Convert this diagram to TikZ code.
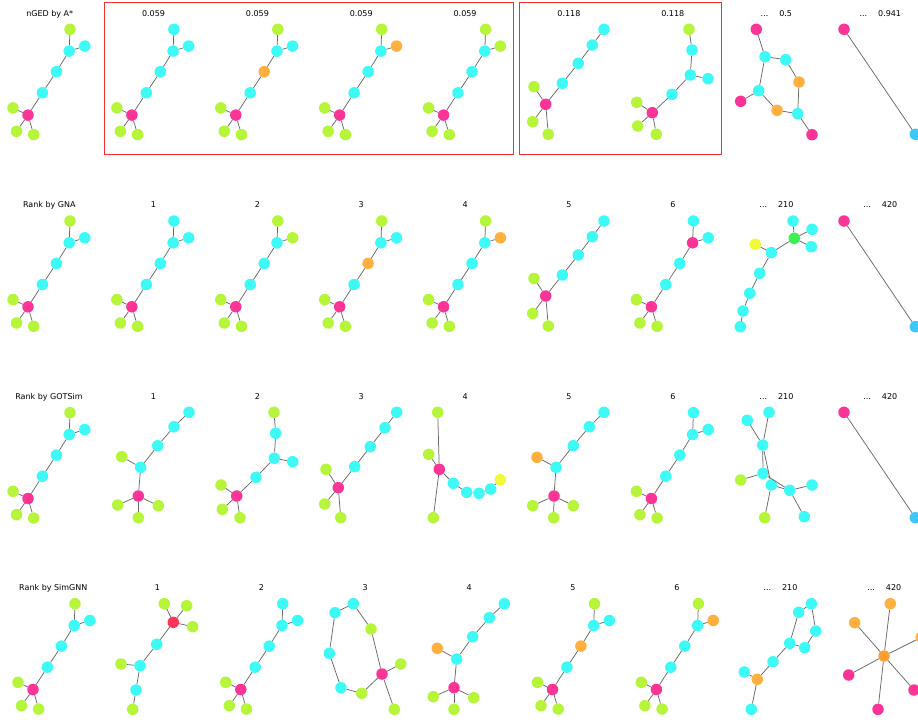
\documentclass[tikz,border=0pt]{standalone}
\usepackage{fontspec}
\setmainfont{DejaVu Sans}
\definecolor{AtomLime}{RGB}{182,245,58}
\definecolor{AtomCyan}{RGB}{62,250,247}
\definecolor{AtomPink}{RGB}{252,52,152}
\definecolor{AtomOrange}{RGB}{255,176,62}
\definecolor{AtomAmber}{RGB}{255,158,52}
\definecolor{AtomGreen}{RGB}{58,240,82}
\definecolor{AtomYellow}{RGB}{240,250,58}
\definecolor{AtomRed}{RGB}{255,52,88}
\definecolor{AtomSky}{RGB}{62,200,250}
\definecolor{BondGray}{RGB}{105,105,105}
\definecolor{FrameRed}{RGB}{250,45,45}
\tikzset{
  atom/.style={circle, fill=#1, draw=none, minimum size=11.5pt, inner sep=0pt},
  bond/.style={draw=BondGray, line width=0.75pt},
  rank label/.style={font=\fontsize{8}{9.6}\selectfont, anchor=base, inner sep=0pt},
  pick box/.style={draw=FrameRed, line width=1pt}
}
% query-shaped molecule: name, x, y of top atom, colours of top, hub, side, middle
\newcommand{\querymol}[7]{%
  \begin{scope}[shift={(#2,#3)}]
    \node[atom=#4] (#1t) at (0,0) {};
    \node[atom=#5] (#1h) at (-0.8,21.8) {};
    \node[atom=#6] (#1r) at (14.8,16.8) {};
    \node[atom=#7] (#1m) at (-13.6,42.4) {};
    \node[atom=AtomCyan] (#1n) at (-27.6,63.5) {};
    \node[atom=AtomPink] (#1p) at (-42,85.8) {};
    \node[atom=AtomLime] (#1l) at (-57,78.6) {};
    \node[atom=AtomLime] (#1bl) at (-53.5,102) {};
    \node[atom=AtomLime] (#1b) at (-36.3,105.3) {};
    \draw[bond] (#1t)--(#1h) (#1h)--(#1r) (#1h)--(#1m) (#1m)--(#1n) (#1n)--(#1p)
      (#1p)--(#1l) (#1p)--(#1bl) (#1p)--(#1b);
  \end{scope}}
\begin{document}
\begin{tikzpicture}[x=1pt, y=-1pt]
\useasboundingbox (0,0) rectangle (918,721);

% titles
\node[rank label] (t11) at (49.7,16.2) {nGED by A*};
\node[rank label] (t12) at (153.5,16.2) {0.059};
\node[rank label] (t13) at (257.4,16.2) {0.059};
\node[rank label] (t14) at (361.2,16.2) {0.059};
\node[rank label] (t15) at (465.1,16.2) {0.059};
\node[rank label] (t16) at (568.9,16.2) {0.118};
\node[rank label] (t17) at (672.8,16.2) {0.118};
\node[rank label] (t18) at (776.4,16.2) {...\hspace{11pt}0.5};
\node[rank label] (t19) at (880.3,16.2) {...\hspace{11pt}0.941};

\node[rank label] (t21) at (49.3,207.9) {Rank by GNA};
\node[rank label] (t22) at (153.5,207.9) {1};
\node[rank label] (t23) at (257.4,207.9) {2};
\node[rank label] (t24) at (361.2,207.9) {3};
\node[rank label] (t25) at (465.1,207.9) {4};
\node[rank label] (t26) at (568.9,207.9) {5};
\node[rank label] (t27) at (672.8,207.9) {6};
\node[rank label] (t28) at (776.4,207.9) {...\hspace{11pt}210};
\node[rank label] (t29) at (880.3,207.9) {...\hspace{11pt}420};

\node[rank label] (t31) at (49,399.2) {Rank by GOTSim};
\node[rank label] (t32) at (153.5,399.2) {1};
\node[rank label] (t33) at (257.4,399.2) {2};
\node[rank label] (t34) at (361.2,399.2) {3};
\node[rank label] (t35) at (465.1,399.2) {4};
\node[rank label] (t36) at (568.9,399.2) {5};
\node[rank label] (t37) at (672.8,399.2) {6};
\node[rank label] (t38) at (776.4,399.2) {...\hspace{11pt}210};
\node[rank label] (t39) at (880.3,399.2) {...\hspace{11pt}420};

\node[rank label] (t41) at (53.3,590.5) {Rank by SimGNN};
\node[rank label] (t42) at (157.5,590.5) {1};
\node[rank label] (t43) at (261.4,590.5) {2};
\node[rank label] (t44) at (365.2,590.5) {3};
\node[rank label] (t45) at (469.1,590.5) {4};
\node[rank label] (t46) at (572.9,590.5) {5};
\node[rank label] (t47) at (676.8,590.5) {6};
\node[rank label] (t48) at (780.4,590.5) {...\hspace{11pt}210};
\node[rank label] (t49) at (884.3,590.5) {...\hspace{11pt}420};

% boxes round the A* picks
\draw[pick box] (104,2.5) rectangle (513.5,154);
\draw[pick box] (519.5,2.5) rectangle (721,154);

% row 1: nGED by A*
\querymol{r1c1}{70}{29.3}{AtomLime}{AtomCyan}{AtomCyan}{AtomCyan}
\querymol{r1c2}{173.9}{29.3}{AtomCyan}{AtomCyan}{AtomCyan}{AtomCyan}
\querymol{r1c3}{277.8}{29.3}{AtomLime}{AtomCyan}{AtomCyan}{AtomOrange}
\querymol{r1c4}{381.7}{29.3}{AtomLime}{AtomCyan}{AtomOrange}{AtomCyan}
\querymol{r1c5}{485.6}{29.3}{AtomLime}{AtomCyan}{AtomLime}{AtomCyan}
\foreach \i/\x/\y/\c in {1/604/29.3/AtomCyan, 2/592.3/45/AtomCyan, 3/578.3/63.3/AtomCyan,
    4/562.3/83.3/AtomCyan, 5/545.7/104.3/AtomPink, 6/534/86.7/AtomLime,
    7/532.7/121.7/AtomLime, 8/548.3/134.3/AtomLime}
  \node[atom=\c] (r1c6-\i) at (\x,\y) {};
\foreach \a/\b in {1/2, 2/3, 3/4, 4/5, 5/6, 5/7, 5/8}
  \draw[bond] (r1c6-\a) -- (r1c6-\b);
\foreach \i/\x/\y/\c in {1/689/29.3/AtomLime, 2/692/50/AtomCyan, 3/690.3/75/AtomCyan,
    4/708/78.7/AtomCyan, 5/672/94.3/AtomCyan, 6/652.3/112.7/AtomPink,
    7/636.7/102.3/AtomLime, 8/637.7/126/AtomLime, 9/656.3/134.3/AtomLime}
  \node[atom=\c] (r1c7-\i) at (\x,\y) {};
\foreach \a/\b in {1/2, 2/3, 3/4, 3/5, 5/6, 6/7, 6/8, 6/9}
  \draw[bond] (r1c7-\a) -- (r1c7-\b);
\foreach \i/\x/\y/\c in {1/756.3/29.3/AtomPink, 2/765/56.7/AtomCyan, 3/785.7/59.7/AtomCyan,
    4/799/82/AtomOrange, 5/758.7/90.7/AtomCyan, 6/740.7/101.3/AtomPink,
    7/777/110.3/AtomOrange, 8/797.7/113.7/AtomCyan, 9/812/134.7/AtomPink}
  \node[atom=\c] (r1c8-\i) at (\x,\y) {};
\foreach \a/\b in {1/2, 2/3, 3/4, 4/8, 2/5, 5/6, 5/7, 7/8, 8/9}
  \draw[bond] (r1c8-\a) -- (r1c8-\b);
\node[atom=AtomPink] (r1c9-1) at (844,29.3) {};
\node[atom=AtomSky] (r1c9-2) at (915.3,134.3) {};
\draw[bond] (r1c9-1) -- (r1c9-2);

% row 2: GNA
\querymol{r2c1}{70}{221}{AtomLime}{AtomCyan}{AtomCyan}{AtomCyan}
\querymol{r2c2}{173.9}{221}{AtomCyan}{AtomCyan}{AtomCyan}{AtomCyan}
\querymol{r2c3}{277.8}{221}{AtomLime}{AtomCyan}{AtomLime}{AtomCyan}
\querymol{r2c4}{381.7}{221}{AtomLime}{AtomCyan}{AtomCyan}{AtomOrange}
\querymol{r2c5}{485.6}{221}{AtomLime}{AtomCyan}{AtomOrange}{AtomCyan}
\foreach \i/\x/\y/\c in {1/604/221/AtomCyan, 2/592.3/236.7/AtomCyan, 3/578.3/255/AtomCyan,
    4/562.3/275/AtomCyan, 5/545.7/296/AtomPink, 6/534/278.4/AtomLime,
    7/532.7/313.4/AtomLime, 8/548.3/326/AtomLime}
  \node[atom=\c] (r2c6-\i) at (\x,\y) {};
\foreach \a/\b in {1/2, 2/3, 3/4, 4/5, 5/6, 5/7, 5/8}
  \draw[bond] (r2c6-\a) -- (r2c6-\b);
\querymol{r2c7}{693.4}{221}{AtomCyan}{AtomPink}{AtomCyan}{AtomCyan}
\foreach \i/\x/\y/\c in {1/793/221/AtomCyan, 2/794.3/238.3/AtomGreen, 3/812/229.3/AtomCyan,
    4/811.3/246.7/AtomCyan, 5/755.3/244.3/AtomYellow, 6/771.3/252.7/AtomCyan,
    7/759.7/273.3/AtomCyan, 8/749.7/293.3/AtomCyan, 9/743/311/AtomCyan,
    10/740.3/326.7/AtomCyan}
  \node[atom=\c] (r2c8-\i) at (\x,\y) {};
\foreach \a/\b in {1/2, 2/3, 2/4, 2/6, 5/6, 6/7, 7/8, 8/9, 9/10}
  \draw[bond] (r2c8-\a) -- (r2c8-\b);
\node[atom=AtomPink] (r2c9-1) at (844,221) {};
\node[atom=AtomSky] (r2c9-2) at (915.3,326.7) {};
\draw[bond] (r2c9-1) -- (r2c9-2);

% row 3: GOTSim
\querymol{r3c1}{70}{412.7}{AtomLime}{AtomCyan}{AtomCyan}{AtomCyan}
\foreach \i/\x/\y/\c in {1/189/412.3/AtomCyan, 2/174/426.7/AtomCyan, 3/157.7/445.7/AtomCyan,
    4/140.7/467.3/AtomCyan, 5/121.7/456.7/AtomLime, 6/138.3/496/AtomPink,
    7/117.7/505/AtomLime, 8/138.3/517.7/AtomLime, 9/158.3/505.7/AtomLime}
  \node[atom=\c] (r3c2-\i) at (\x,\y) {};
\foreach \a/\b in {1/2, 2/3, 3/4, 4/5, 4/6, 6/7, 6/8, 6/9}
  \draw[bond] (r3c2-\a) -- (r3c2-\b);
\foreach \i/\x/\y/\c in {1/274/412.3/AtomLime, 2/275.7/433.3/AtomCyan, 3/274.3/458.3/AtomCyan,
    4/292.7/461.7/AtomCyan, 5/256/477.3/AtomCyan, 6/236.7/496/AtomPink,
    7/221/485/AtomLime, 8/222.3/509.3/AtomLime, 9/240/517.7/AtomLime}
  \node[atom=\c] (r3c3-\i) at (\x,\y) {};
\foreach \a/\b in {1/2, 2/3, 3/4, 3/5, 5/6, 6/7, 6/8, 6/9}
  \draw[bond] (r3c3-\a) -- (r3c3-\b);
\foreach \i/\x/\y/\c in {1/396.7/412.3/AtomCyan, 2/385/427.7/AtomCyan, 3/370.3/446.7/AtomCyan,
    4/354.7/466.7/AtomCyan, 5/338.3/487.7/AtomPink, 6/326/469.3/AtomLime,
    7/324.7/504/AtomLime, 8/340.7/517.7/AtomLime}
  \node[atom=\c] (r3c4-\i) at (\x,\y) {};
\foreach \a/\b in {1/2, 2/3, 3/4, 4/5, 5/6, 5/7, 5/8}
  \draw[bond] (r3c4-\a) -- (r3c4-\b);
\foreach \i/\x/\y/\c in {1/437.7/412.3/AtomLime, 2/428.7/454.3/AtomLime, 3/439.3/469.3/AtomPink,
    4/433.3/517.7/AtomLime, 5/453.3/483.3/AtomCyan, 6/466.7/492.3/AtomCyan,
    7/479/493.3/AtomCyan, 8/490.7/489/AtomCyan, 9/500.3/479.7/AtomYellow}
  \node[atom=\c] (r3c5-\i) at (\x,\y) {};
\foreach \a/\b in {3/1, 3/2, 3/4, 3/5, 5/6, 6/7, 7/8, 8/9}
  \draw[bond] (r3c5-\a) -- (r3c5-\b);
\foreach \i/\x/\y/\c in {1/604/412.3/AtomCyan, 2/589.3/426.7/AtomCyan, 3/573.3/445.7/AtomCyan,
    4/556/467.3/AtomCyan, 5/537/457.3/AtomOrange, 6/554/496/AtomPink,
    7/532.7/505.7/AtomLime, 8/553.7/517.7/AtomLime, 9/573.3/505.7/AtomLime}
  \node[atom=\c] (r3c6-\i) at (\x,\y) {};
\foreach \a/\b in {1/2, 2/3, 3/4, 4/5, 4/6, 6/7, 6/8, 6/9}
  \draw[bond] (r3c6-\a) -- (r3c6-\b);
\querymol{r3c7}{693.4}{412.7}{AtomCyan}{AtomCyan}{AtomCyan}{AtomCyan}
\foreach \i/\x/\y/\c in {1/769/412.3/AtomCyan, 2/747.3/420.3/AtomCyan, 3/762.7/445/AtomCyan,
    4/763/473.3/AtomCyan, 5/740.7/480/AtomLime, 6/771.3/485/AtomCyan,
    7/789.7/490.3/AtomCyan, 8/812/485/AtomCyan, 9/764.7/517.7/AtomLime,
    10/804.3/516.7/AtomCyan}
  \node[atom=\c] (r3c8-\i) at (\x,\y) {};
\foreach \a/\b in {1/3, 2/3, 3/4, 3/6, 4/5, 4/7, 6/7, 6/9, 7/8, 7/10}
  \draw[bond] (r3c8-\a) -- (r3c8-\b);
\node[atom=AtomPink] (r3c9-1) at (844,412.3) {};
\node[atom=AtomSky] (r3c9-2) at (915.3,517.7) {};
\draw[bond] (r3c9-1) -- (r3c9-2);

% row 4: SimGNN
\querymol{r4c1}{75}{603.7}{AtomLime}{AtomCyan}{AtomCyan}{AtomCyan}
\foreach \i/\x/\y/\c in {1/164.3/603.7/AtomLime, 2/186.7/605.7/AtomLime, 3/173.3/622.3/AtomRed,
    4/192.7/626.7/AtomLime, 5/156.7/644.3/AtomCyan, 6/140/665.7/AtomCyan,
    7/121/664/AtomLime, 8/136/690/AtomCyan, 9/132.7/709.3/AtomLime}
  \node[atom=\c] (r4c2-\i) at (\x,\y) {};
\foreach \a/\b in {3/1, 3/2, 3/4, 3/5, 5/6, 6/7, 6/8, 8/9}
  \draw[bond] (r4c2-\a) -- (r4c2-\b);
\querymol{r4c3}{282.8}{603.7}{AtomCyan}{AtomCyan}{AtomCyan}{AtomCyan}
\foreach \i/\x/\y/\c in {1/353.3/603.7/AtomCyan, 2/335/612.7/AtomCyan, 3/371/629/AtomLime,
    4/329.3/653.3/AtomCyan, 5/382/674/AtomPink, 6/400.7/664/AtomLime,
    7/341/687.7/AtomCyan, 8/361.7/693.3/AtomLime, 9/394.3/709.3/AtomLime}
  \node[atom=\c] (r4c4-\i) at (\x,\y) {};
\foreach \a/\b in {1/2, 1/3, 2/4, 4/7, 7/8, 8/5, 3/5, 5/6, 5/9}
  \draw[bond] (r4c4-\a) -- (r4c4-\b);
\foreach \i/\x/\y/\c in {1/504.3/603.7/AtomCyan, 2/489.3/617.7/AtomCyan, 3/472.7/636.7/AtomCyan,
    4/456.7/659/AtomCyan, 5/437.3/648.3/AtomOrange, 6/454/687.7/AtomPink,
    7/433.3/696.7/AtomLime, 8/454/709.3/AtomLime, 9/473.7/697.7/AtomLime}
  \node[atom=\c] (r4c5-\i) at (\x,\y) {};
\foreach \a/\b in {1/2, 2/3, 3/4, 4/5, 4/6, 6/7, 6/8, 6/9}
  \draw[bond] (r4c5-\a) -- (r4c5-\b);
\querymol{r4c6}{594.5}{603.7}{AtomLime}{AtomCyan}{AtomCyan}{AtomOrange}
\querymol{r4c7}{698.4}{603.7}{AtomLime}{AtomCyan}{AtomOrange}{AtomCyan}
\foreach \i/\x/\y/\c in {1/811.3/603.7/AtomCyan, 2/798.7/612.3/AtomCyan, 3/815.7/631/AtomCyan,
    4/789.7/643.3/AtomCyan, 5/804.7/647.7/AtomCyan, 6/773/661.7/AtomCyan,
    7/744.3/672/AtomCyan, 8/757.3/679.3/AtomOrange, 9/751.3/709.3/AtomCyan}
  \node[atom=\c] (r4c8-\i) at (\x,\y) {};
\foreach \a/\b in {1/2, 1/3, 3/5, 5/4, 2/4, 4/6, 6/8, 8/7, 8/9}
  \draw[bond] (r4c8-\a) -- (r4c8-\b);
\foreach \i/\x/\y/\c in {1/884/656/AtomAmber, 2/890.3/603.7/AtomOrange, 3/854.7/622.7/AtomOrange,
    4/921.3/637.3/AtomOrange, 5/848.7/675/AtomPink, 6/914/690/AtomPink,
    7/878/709.3/AtomPink}
  \node[atom=\c] (r4c9-\i) at (\x,\y) {};
\foreach \b in {2,...,7}
  \draw[bond] (r4c9-1) -- (r4c9-\b);
\end{tikzpicture}
\end{document}
